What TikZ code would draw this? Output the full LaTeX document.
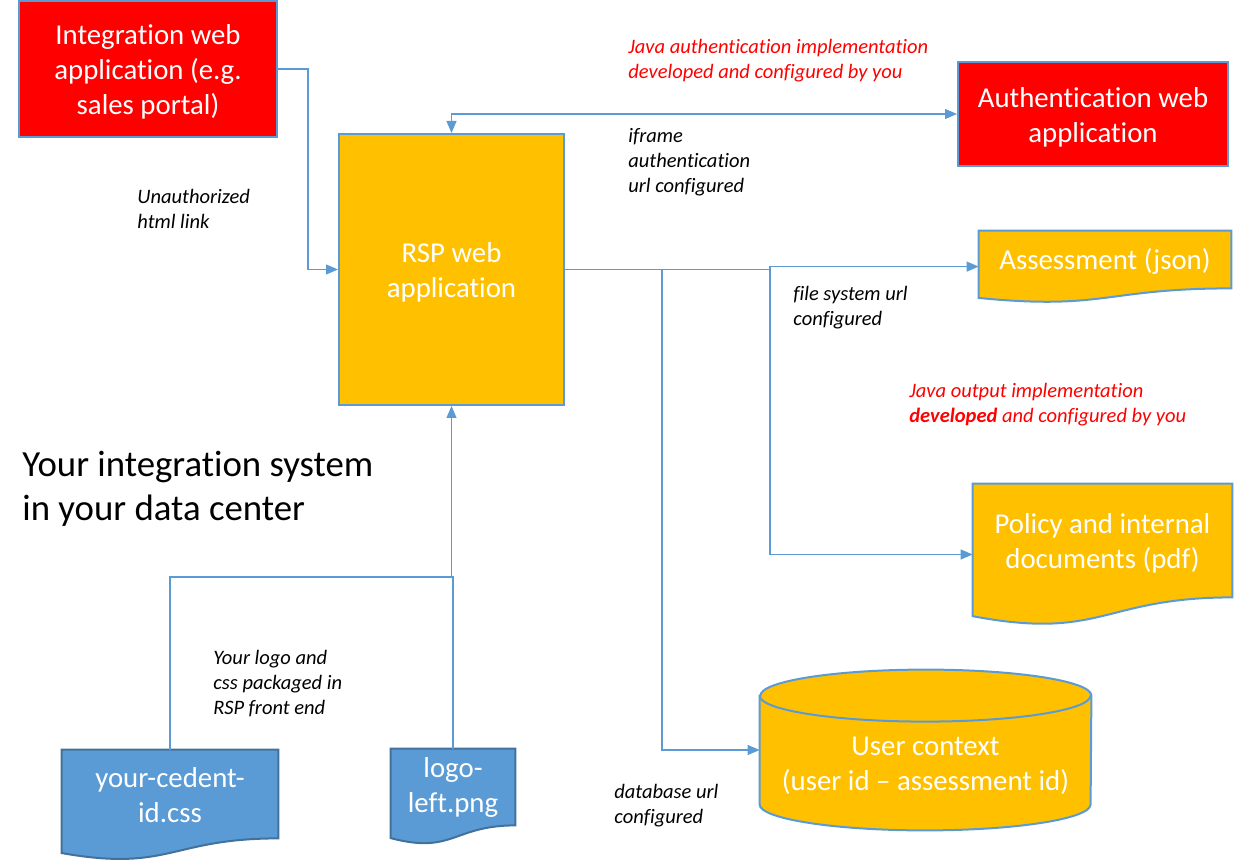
\documentclass[tikz,border=0pt]{standalone}
\usepackage{fontspec}
\setmainfont{Carlito}[Ligatures={TeX,NoCommon}]
\usetikzlibrary{positioning,arrows.meta,calc,backgrounds}

\definecolor{appred}{HTML}{FF0000}
\definecolor{appgold}{HTML}{FFC000}
\definecolor{linkblue}{HTML}{5B9BD5}
\definecolor{fileblue}{HTML}{41719C}

\newcommand\boxfont{\fontsize{14.4}{17.5}\selectfont}
\newcommand\notefont{\fontsize{10.25}{12.5}\selectfont\itshape}
\newcommand\bigfont{\fontsize{18.4}{22}\selectfont}
\newcommand\lift{\rule{0pt}{13pt}}

% wavy bottom of a file node, drawn behind it; also gives (#1-w)
\newcommand\docwave[3]{%
  \begin{scope}[on background layer]
    \filldraw[fill=#2, draw=#3, line width=1pt] (#1.north west) -- (#1.north east) -- (#1.south east)
      .. controls (#1.south) and ($(#1.south)!-0.381!(#1.north)$)
      .. ($(#1.south west)!-0.165!(#1.north west)$) -- cycle;
  \end{scope}
  \coordinate (#1-w) at ($(#1.north west)!0.623!(#1.south west)$);}

\begin{document}
\begin{tikzpicture}[
    x=0.5pt, y=-0.5pt
    ,>={Triangle[length=6pt,width=5pt]}
    ,box/.style={draw=linkblue, line width=1pt, text=white, align=center, inner sep=0pt, font=\boxfont}
    ,filedoc/.style={text=white, align=center, inner sep=0pt, font=\boxfont}
    ,note/.style={anchor=north west, inner sep=0pt, align=left, font=\notefont}
    ,link/.style={draw=linkblue, line width=0.6pt}
  ]
  \useasboundingbox (0,0) rectangle (1237,860);

  % applications
  \node [box, fill=appred, minimum width=129pt, minimum height=68pt] (portal) at (148,69)
    {\lift Integration web\\application (e.g.\\sales portal)};
  \node [box, fill=appgold, minimum width=112.5pt, minimum height=135.5pt] (rsp) at (451.5,269.5)
    {\lift RSP web\\application};
  \node [box, fill=appred, minimum width=135pt, minimum height=52pt] (auth) at (1093,114)
    {\lift Authentication web\\application};

  % files
  \node [filedoc, minimum width=126pt, minimum height=28.5pt] (assess) at (1105,259.5) {\rule{0pt}{12pt}Assessment (json)};
  \docwave{assess}{appgold}{linkblue}
  \node [filedoc, minimum width=129.5pt, minimum height=56.5pt] (policy) at (1102.5,540.5)
    {\lift Policy and internal\\documents (pdf)};
  \docwave{policy}{appgold}{linkblue}
  \node [filedoc, minimum width=108pt, minimum height=44pt] (css) at (170,794) {\rule{0pt}{11.5pt}your-cedent-\\id.css};
  \docwave{css}{linkblue}{fileblue}
  \node [filedoc, minimum width=62pt, minimum height=38pt] (logo) at (453,787) {logo-\\left.png};
  \docwave{logo}{linkblue}{fileblue}

  % database
  \node [minimum width=165.5pt, minimum height=80pt, inner sep=0pt] (db) at (925.5,750) {};
  \begin{scope}[on background layer]
    \filldraw[fill=appgold, draw=linkblue, line width=1pt]
      ([yshift=-13pt]db.north west) -- ([yshift=13pt]db.south west)
      arc[start angle=180, end angle=360, x radius=82.75pt, y radius=13pt]
      -- ([yshift=-13pt]db.north east)
      arc[start angle=0, end angle=180, x radius=82.75pt, y radius=13pt] -- cycle;
    \draw[linkblue, line width=1pt] ([yshift=-13pt]db.north west)
      arc[start angle=180, end angle=360, x radius=82.75pt, y radius=13pt];
  \end{scope}
  \node [filedoc] (dbtext) at ([yshift=-8pt]db.center) {User context\\(user id – assessment id)};

  % labels
  \node [note] (linknote) at (137,189) {Unauthorized\\html link};
  \node [note, text=appred] (authnote) at (628,39) {Java authentication implementation\\developed and configured by you};
  \node [note] (iframenote) at (628,128) {iframe\\authentication\\url configured};
  \node [note] (fsnote) at (793,286) {file system url\\configured};
  \node [note, text=appred] (outnote) at (909,383) {Java output implementation\\\textbf{developed} and configured by you};
  \node [note] (feNote) at (213,650) {Your logo and\\css packaged in\\RSP front end};
  \node [note] (dbnote) at (614,784) {database url\\configured};
  \node [anchor=north west, inner sep=0pt, align=left, font=\bigfont] (title) at (22,451)
    {Your integration system\\in your data center};

  % connectors
  \coordinate (fsplit) at (770,269.5);
  \coordinate (dbsplit) at (662,269.5);
  \coordinate (frontend) at (451.5,577);
  \draw[link, ->] (portal.east) -- ++(30,0) |- (rsp.west);
  \draw[link, <->] (rsp.north) |- (auth.west);
  \draw[link] (rsp.east) -- (fsplit);
  \draw[link, ->] (fsplit) |- (assess-w);
  \draw[link, ->] (fsplit) |- (policy-w);
  \draw[link, ->] (dbsplit) |- (db.west);
  \draw[link, ->] (css.north) |- (frontend) -- (rsp.south);
  \draw[link] (logo.north) |- (frontend);
\end{tikzpicture}
\end{document}
